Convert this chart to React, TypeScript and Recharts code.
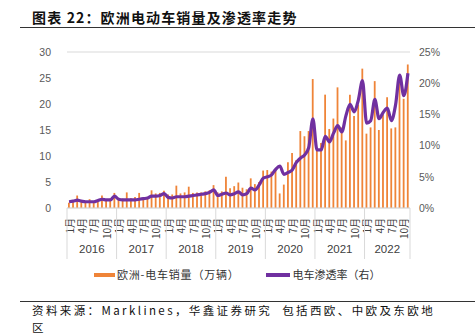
import React from 'react';
import { ComposedChart, Bar, Line, XAxis, YAxis, CartesianGrid } from 'recharts';

// ---- data ----
const years = [2016, 2017, 2018, 2019, 2020, 2021, 2022];

// 欧洲-电车销量（万辆）
const sales2016 = [1.0, 1.1, 2.4, 1.3, 1.2, 1.7, 1.1, 1.3, 2.4, 1.6, 1.8, 2.9];
const sales2017 = [1.6, 1.8, 3.0, 1.9, 2.1, 2.9, 2.0, 1.9, 3.4, 2.8, 2.9, 3.3];
const sales2018 = [2.6, 2.6, 4.3, 2.8, 3.0, 4.1, 2.9, 3.0, 3.0, 3.2, 3.4, 4.4];
const sales2019 = [3.0, 3.2, 6.0, 3.8, 4.2, 4.9, 3.9, 3.6, 5.7, 4.6, 5.0, 7.2];
const sales2020 = [7.3, 7.0, 7.5, 2.8, 4.5, 8.8, 10.6, 9.2, 14.8, 13.8, 14.8, 24.8];
const sales2021 = [11.0, 12.5, 21.8, 15.2, 17.2, 23.2, 15.5, 13.0, 21.8, 17.7, 19.9, 26.8];
const sales2022 = [14.3, 15.5, 24.4, 15.0, 18.0, 21.3, 15.3, 15.5, 25.3, 21.0, 27.6];

// 电车渗透率（右），%
const rate2016 = [1.0, 1.1, 1.25, 1.1, 1.0, 1.0, 1.0, 1.2, 1.4, 1.3, 1.3, 1.9];
const rate2017 = [1.4, 1.3, 1.3, 1.3, 1.3, 1.4, 1.5, 1.6, 1.9, 1.9, 2.0, 2.3];
const rate2018 = [1.7, 1.6, 1.8, 1.8, 1.8, 1.9, 2.0, 2.1, 2.2, 2.3, 2.5, 2.9];
const rate2019 = [2.0, 2.2, 2.4, 2.1, 2.3, 2.6, 2.1, 2.3, 3.2, 2.9, 3.7, 4.8];
const rate2020 = [5.0, 5.3, 6.2, 6.7, 5.4, 5.7, 6.1, 7.3, 8.0, 8.5, 9.7, 14.3];
const rate2021 = [9.3, 9.3, 11.5, 10.6, 12.0, 13.2, 12.2, 14.8, 16.6, 15.4, 17.3, 20.4];
const rate2022 = [13.6, 14.0, 17.4, 14.3, 15.3, 16.0, 14.0, 16.5, 21.3, 18.0, 21.6];

const salesByYear = [sales2016, sales2017, sales2018, sales2019, sales2020, sales2021, sales2022];
const rateByYear = [rate2016, rate2017, rate2018, rate2019, rate2020, rate2021, rate2022];

const labeledMonths = [1, 4, 7, 10];
const leftTicks = [0, 5, 10, 15, 20, 25, 30];
const rightTicks = [0, 5, 10, 15, 20, 25];

const titleText = '图表 22：欧洲电动车销量及渗透率走势';
const salesName = '欧洲-电车销量（万辆）';
const rateName = '电车渗透率（右）';
const sourceLine1 = '资料来源：Marklines，华鑫证券研究  包括西欧、中欧及东欧地';
const sourceLine2 = '区';

type Row = { key: string; year: number; month: number; sales: number; rate: number; count: number };
const data: Row[] = [];
years.forEach((yr, yi) => {
  salesByYear[yi].forEach((s, mi) => {
    data.push({
      key: `${yr}-${mi + 1}`,
      year: yr,
      month: mi + 1,
      sales: s,
      rate: rateByYear[yi][mi],
      count: salesByYear[yi].length,
    });
  });
});
const N = data.length;

const NUM_FONT = '"Liberation Sans", Arial, "Noto Sans CJK SC", sans-serif';
const CJK_FONT = '"Noto Sans CJK SC", "Liberation Sans", sans-serif';
const ORANGE = '#EF8438';
const PURPLE = '#7030A0';
const GRID = '#D9D9D9';
const TEXT = '#404040';

function MonthTick(props: any) {
  const { x, y, index } = props;
  const d = data[index];
  if (!d) return <g />;
  const w = typeof props.width === 'number' && props.width > 0 ? props.width : 343;
  const band = w / N;
  const parts: React.ReactNode[] = [];
  if (labeledMonths.includes(d.month)) {
    parts.push(
      <text
        key="m"
        transform={`translate(${x},${y + 10}) rotate(-90)`}
        textAnchor="end"
        dominantBaseline="central"
        fontSize={10}
        fill={TEXT}
        fontFamily={CJK_FONT}
      >
        {`${d.month}月`}
      </text>
    );
  }
  if (d.month === 1) {
    const lx = x - band / 2;
    parts.push(<line key="s" x1={lx} x2={lx} y1={y} y2={y + 51} stroke={GRID} strokeWidth={1} />);
  }
  if (index === N - 1) {
    const rx = x + band / 2;
    parts.push(<line key="e" x1={rx} x2={rx} y1={y} y2={y + 51} stroke={GRID} strokeWidth={1} />);
  }
  const mid = (d.count - 1) / 2;
  if (d.month - 1 === Math.floor(mid)) {
    const cx = x + (mid - Math.floor(mid)) * band;
    parts.push(
      <text key="y" x={cx} y={y + 45} textAnchor="middle" fontSize={11.5} fill={TEXT} fontFamily={NUM_FONT}>
        {d.year}
      </text>
    );
  }
  return <g>{parts}</g>;
}

const footStyle: React.CSSProperties = {
  position: 'absolute',
  left: 32,
  fontFamily: CJK_FONT,
  fontSize: 11.5,
  letterSpacing: 2.4,
  lineHeight: '16px',
  color: '#111',
  whiteSpace: 'pre',
};

export default function App() {
  return (
    <div style={{ position: 'absolute', left: 0, top: 0, width: 475, height: 335, background: '#fff', overflow: 'hidden' }}>
      <div
        style={{
          position: 'absolute',
          left: 32,
          top: 8,
          fontFamily: CJK_FONT,
          fontWeight: 700,
          fontSize: 14,
          letterSpacing: 1.15,
          lineHeight: '18px',
          color: '#111',
          whiteSpace: 'pre',
        }}
      >
        {titleText}
      </div>
      <div style={{ position: 'absolute', left: 20, top: 26.5, width: 455, height: 1.3, background: '#333' }} />

      <div style={{ position: 'absolute', left: 0, top: 0 }}>
        <ComposedChart
          width={475}
          height={335}
          data={data}
          margin={{ top: 52, right: 15, bottom: 67, left: 17 }}
          barCategoryGap={0}
        >
          <CartesianGrid vertical={false} stroke={GRID} strokeWidth={1} />
          <XAxis
            dataKey="key"
            interval={0}
            tick={<MonthTick />}
            tickLine={false}
            tickSize={0}
            tickMargin={0}
            axisLine={{ stroke: GRID }}
            height={60}
          />
          <YAxis
            yAxisId="left"
            domain={[0, 30]}
            ticks={leftTicks}
            axisLine={false}
            tickLine={false}
            tickSize={0}
            tickMargin={16}
            width={50}
            tick={{ fontSize: 10.5, fill: '#595959', fontFamily: NUM_FONT }}
          />
          <YAxis
            yAxisId="right"
            orientation="right"
            domain={[0, 25]}
            ticks={rightTicks}
            axisLine={false}
            tickLine={false}
            tickSize={0}
            tickMargin={9}
            width={50}
            tickFormatter={(v: number) => `${v}%`}
            tick={{ fontSize: 10.5, fill: '#595959', fontFamily: NUM_FONT }}
          />
          <Bar yAxisId="left" dataKey="sales" name={salesName} fill={ORANGE} barSize={1.8} isAnimationActive={false} />
          <Line
            yAxisId="right"
            dataKey="rate"
            name={rateName}
            type="monotone"
            stroke={PURPLE}
            strokeWidth={3.2}
            dot={false}
            activeDot={false}
            isAnimationActive={false}
          />
        </ComposedChart>
      </div>

      {/* legend */}
      <div style={{ position: 'absolute', left: 94, top: 272.5, width: 21, height: 4, background: ORANGE }} />
      <div
        style={{
          position: 'absolute',
          left: 117,
          top: 266,
          fontFamily: CJK_FONT,
          fontSize: 11,
          letterSpacing: 0.8,
          lineHeight: '16px',
          color: '#333',
          whiteSpace: 'pre',
        }}
      >
        {salesName}
      </div>
      <div style={{ position: 'absolute', left: 266, top: 272.5, width: 24, height: 4, background: PURPLE }} />
      <div
        style={{
          position: 'absolute',
          left: 292.5,
          top: 266,
          fontFamily: CJK_FONT,
          fontSize: 11,
          letterSpacing: 0,
          lineHeight: '16px',
          color: '#333',
          whiteSpace: 'pre',
        }}
      >
        {rateName}
      </div>

      {/* source */}
      <div style={{ position: 'absolute', left: 20, top: 301, width: 455, height: 1.3, background: '#333' }} />
      <div style={{ ...footStyle, top: 301.8 }}>{sourceLine1}</div>
      <div style={{ ...footStyle, top: 318.6 }}>{sourceLine2}</div>
    </div>
  );
}
